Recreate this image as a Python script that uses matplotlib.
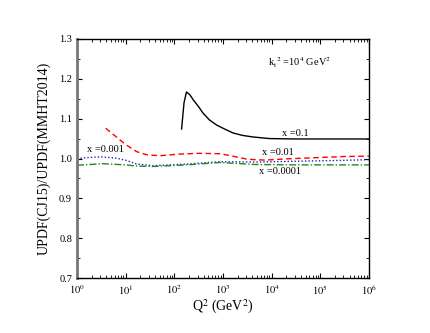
import matplotlib
matplotlib.use('Agg')
import matplotlib.pyplot as plt
import numpy as np

plt.rcParams['font.family'] = ['Liberation Serif', 'DejaVu Serif']
plt.rcParams['mathtext.fontset'] = 'stix'

# log10(Q^2) positions and ratio values
lq_01 = [2.15, 2.2, 2.25, 2.32, 2.39, 2.5, 2.59, 2.72, 2.87, 3.05, 3.21, 3.4, 3.62, 3.96, 4.5, 5.0, 6.0]
r_01 = [1.074, 1.14, 1.167, 1.160, 1.147, 1.130, 1.114, 1.097, 1.084, 1.073, 1.064, 1.058, 1.054, 1.050, 1.049, 1.049, 1.049]

lq_001 = [0.59, 0.8, 1.0, 1.23, 1.45, 1.7, 2.1, 2.5, 2.94, 3.2, 3.51, 3.86, 4.3, 4.89, 5.5, 6.0]
r_001 = [1.076, 1.055, 1.035, 1.017, 1.009, 1.007, 1.011, 1.013, 1.012, 1.006, 0.998, 0.996, 0.999, 1.002, 1.005, 1.006]

lq_0001 = [0.0, 0.3, 0.53, 0.8, 1.02, 1.23, 1.56, 2.25, 2.94, 3.65, 4.5, 5.3, 6.0]
r_0001 = [1.0, 1.003, 1.004, 1.001, 0.995, 0.986, 0.982, 0.986, 0.992, 0.991, 0.993, 0.995, 0.997]

lq_00001 = [0.0, 0.53, 1.0, 1.23, 1.56, 2.25, 2.94, 3.65, 4.5, 6.0]
r_00001 = [0.983, 0.987, 0.984, 0.981, 0.980, 0.984, 0.990, 0.985, 0.984, 0.984]

fig = plt.figure(figsize=(4.3, 3.33), dpi=100)
ax = fig.add_axes([0.179, 0.165, 0.679, 0.718])

ax.plot(10 ** np.array(lq_01), r_01, color='black', lw=1.0, ls='-')
ax.plot(10 ** np.array(lq_001), r_001, color='red', lw=1.0, ls=(0, (4, 2.5)))
ax.plot(10 ** np.array(lq_0001), r_0001, color='#2222bb', lw=1.0, ls=(0, (1, 1.5)))
ax.plot(10 ** np.array(lq_00001), r_00001, color='#228822', lw=1.0, ls=(0, (5, 1.5, 1, 1.5)))

ax.set_xscale('log')
ax.set_xlim(1, 1e6)
ax.set_ylim(0.7, 1.3)
ax.set_yticks([0.7, 0.8, 0.9, 1.0, 1.1, 1.2, 1.3])
ax.set_yticks(np.arange(0.75, 1.3, 0.1), minor=True)
ax.set_xticks([10 ** k for k in range(7)])
ax.set_xticklabels([r'$10^{%d}$' % k for k in range(7)])

ax.tick_params(which='both', direction='in', top=True, right=True, labelsize=7.5)
ax.tick_params(which='major', length=3.5, width=0.8)
ax.tick_params(which='minor', length=2, width=0.6)

for s in ['top', 'right', 'bottom']:
    ax.spines[s].set_linewidth(1.0)
ax.spines['left'].set_linewidth(2.0)
ax.spines['left'].set_color('#777777')

ax.set_xlabel(r'Q$^2$ (GeV$^2$)', fontsize=10, labelpad=1)
ax.set_ylabel('UPDF(CJ15)/UPDF(MMHT2014)', fontsize=10, labelpad=6)

ax.text(10 ** 4.48, 1.062, 'x =0.1', fontsize=7.5, ha='center', va='center')
ax.text(10 ** 4.13, 1.014, 'x =0.01', fontsize=7.5, ha='center', va='center')
ax.text(10 ** 0.58, 1.022, 'x =0.001', fontsize=7.5, ha='center', va='center')
ax.text(10 ** 4.17, 0.967, 'x =0.0001', fontsize=7.5, ha='center', va='center')
ax.text(10 ** 4.58, 1.24, r'k$_\mathrm{t}$$^2$ =10$^4$ GeV$^2$', fontsize=7.5, ha='center', va='center')

fig.savefig('out.png', dpi=100)
